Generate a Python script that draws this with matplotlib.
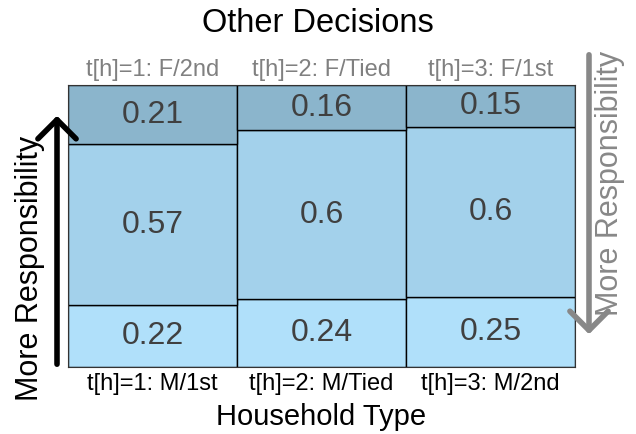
import numpy as np
import matplotlib.pyplot as plt
from matplotlib.patches import FancyArrowPatch

plt.rcParams['font.family'] = ['Liberation Sans', 'DejaVu Sans']

bottom_labels = ['t[h]=1: M/1st', 't[h]=2: M/Tied', 't[h]=3: M/2nd']
top_labels = ['t[h]=1: F/2nd', 't[h]=2: F/Tied', 't[h]=3: F/1st']
low = [0.22, 0.24, 0.25]
mid = [0.57, 0.6, 0.6]
high = [0.21, 0.16, 0.15]
colors = ['#b0e0fa', '#a3d1eb', '#8bb5cc']

W, H = 636, 434
fig = plt.figure(figsize=(W / 100, H / 100), dpi=100)
ax = fig.add_axes([68 / W, (H - 367) / H, (575 - 68) / W, (367 - 85) / H])

x = np.arange(3)
bot = np.zeros(3)
for vals, col in zip([low, mid, high], colors):
    vals = np.array(vals)
    ax.bar(x, vals, bottom=bot, width=1, color=col, edgecolor='black', linewidth=1)
    for xi, b, v in zip(x, bot, vals):
        ax.text(xi, b + v / 2, f'{v:g}', ha='center', va='center', fontsize=23, color='#404040')
    bot += vals

ax.set_xlim(-0.5, 2.5)
ax.set_ylim(0, 1)
ax.set_yticks([])
ax.set_xticks(x)
ax.set_xticklabels(bottom_labels, fontsize=17)
ax.tick_params(axis='x', length=0, pad=4)
for s in ax.spines.values():
    s.set_color('#333333')

top = ax.secondary_xaxis('top')
top.set_xticks(x)
top.set_xticklabels(top_labels, fontsize=17, color='#808080')
top.tick_params(length=0, pad=3)
for s in top.spines.values():
    s.set_visible(False)

ax.set_xlabel('Household Type', fontsize=21, labelpad=6)
fig.text(0.5, (H - 23) / H, 'Other Decisions', ha='center', va='center', fontsize=23.5)

fig.text(30 / W, (H - 268) / H, 'More Responsibility', rotation=90, ha='center', va='center', fontsize=22)
fig.text(610 / W, (H - 183) / H, 'More Responsibility', rotation=90, ha='center', va='center',
         fontsize=22, color='#888888')

a1 = FancyArrowPatch((57 / W, (H - 367) / H), (57 / W, (H - 113) / H), transform=fig.transFigure,
                     arrowstyle='->,head_length=0.55,head_width=0.55', mutation_scale=25,
                     color='black', lw=4)
a2 = FancyArrowPatch((589 / W, (H - 52) / H), (589 / W, (H - 337) / H), transform=fig.transFigure,
                     arrowstyle='->,head_length=0.55,head_width=0.55', mutation_scale=25,
                     color='#888888', lw=4)
fig.patches.extend([a1, a2])

fig.savefig('out.png', dpi=100)
